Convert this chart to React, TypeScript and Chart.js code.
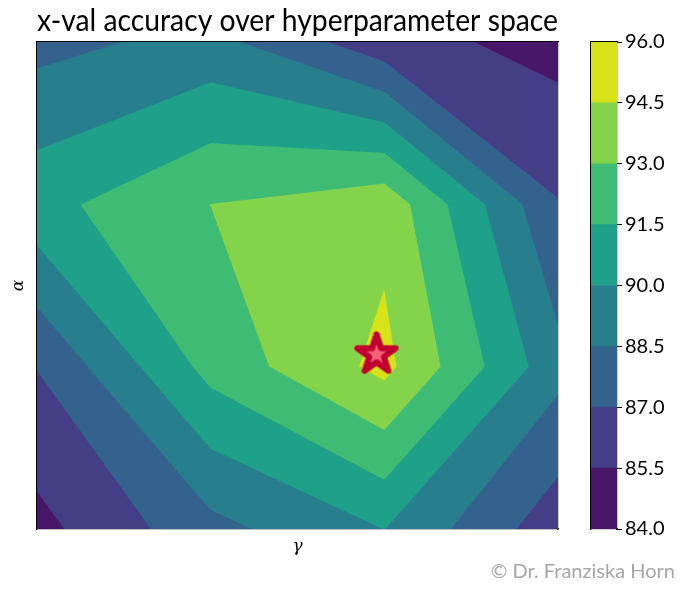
import React, { useEffect, useRef } from "react";
import { Chart, registerables } from "chart.js";

Chart.register(...registerables);

// grid positions (index of hyperparameter value)
const gammaIdx = [0, 1, 2, 3];
const alphaIdx = [0, 1, 2, 3];
// cross-validation accuracy, one row per alpha value (bottom to top)
const accAlpha0 = [85.04, 88.04, 90.03, 86.06];
const accAlpha1 = [87.06, 92.03, 94.93, 89.02];
const accAlpha2 = [91.0, 93.02, 94.05, 87.09];
const accAlpha3 = [88.02, 89.02, 86.07, 84.98];
// contour levels and colours
const levels = [84, 85.5, 87, 88.5, 90, 91.5, 93, 94.5, 96];
const bandColors = ["#481668", "#433e85", "#33638d", "#277f8e", "#1fa088", "#3fbc73", "#84d44b", "#d8e219"];
// best parameters
const bestGamma = [1.955];
const bestAlpha = [1.075];

const TITLE_FONT = "Lato";

type P = { x: number; y: number };

function bandPolygons(grid: number[][], lo: number, hi: number): P[][] {
  const polys: P[][] = [];
  for (let j = 0; j < alphaIdx.length - 1; j++) {
    for (let i = 0; i < gammaIdx.length - 1; i++) {
      const c = [
        { x: gammaIdx[i], y: alphaIdx[j], v: grid[j][i] },
        { x: gammaIdx[i + 1], y: alphaIdx[j], v: grid[j][i + 1] },
        { x: gammaIdx[i + 1], y: alphaIdx[j + 1], v: grid[j + 1][i + 1] },
        { x: gammaIdx[i], y: alphaIdx[j + 1], v: grid[j + 1][i] },
      ];
      const pts: P[] = [];
      for (let k = 0; k < 4; k++) {
        const a = c[k];
        const b = c[(k + 1) % 4];
        if (a.v >= lo && a.v <= hi) pts.push({ x: a.x, y: a.y });
        const cross: { t: number; x: number; y: number }[] = [];
        for (const L of [lo, hi]) {
          if ((a.v < L && b.v > L) || (a.v > L && b.v < L)) {
            const t = (L - a.v) / (b.v - a.v);
            cross.push({ t, x: a.x + t * (b.x - a.x), y: a.y + t * (b.y - a.y) });
          }
        }
        cross.sort((p, q) => p.t - q.t);
        cross.forEach((q) => pts.push({ x: q.x, y: q.y }));
      }
      if (pts.length >= 3) {
        pts.push({ ...pts[0] });
        polys.push(pts);
      }
    }
  }
  return polys;
}

function makeStar(): HTMLCanvasElement {
  const cv = document.createElement("canvas");
  cv.width = 58;
  cv.height = 58;
  const ctx = cv.getContext("2d")!;
  const R = 20.2;
  const r = R * 0.382;
  const cx = 29;
  const cy = 29;
  ctx.beginPath();
  for (let k = 0; k < 10; k++) {
    const ang = -Math.PI / 2 + (k * Math.PI) / 5;
    const rad = k % 2 === 0 ? R : r;
    const px = cx + rad * Math.cos(ang);
    const py = cy + rad * Math.sin(ang);
    if (k === 0) ctx.moveTo(px, py);
    else ctx.lineTo(px, py);
  }
  ctx.closePath();
  ctx.fillStyle = "#F26279";
  ctx.fill();
  ctx.lineJoin = "round";
  ctx.lineWidth = 6;
  ctx.strokeStyle = "#C1002F";
  ctx.stroke();
  return cv;
}

const hiddenAxis = (position: string, fit: (s: any) => void, extra: any = {}) => ({
  type: "linear",
  position,
  min: 0,
  max: 1,
  ticks: { display: false },
  grid: { display: false, drawTicks: false },
  border: { display: true, color: "#000", width: 1.2 },
  afterFit: fit,
  ...extra,
});

export default function App() {
  const mainRef = useRef<HTMLCanvasElement>(null);
  const cbRef = useRef<HTMLCanvasElement>(null);

  useEffect(() => {
    const grid = [accAlpha0, accAlpha1, accAlpha2, accAlpha3];
    const datasets: any[] = [];
    datasets.push({
      data: [{ x: bestGamma[0], y: bestAlpha[0] }],
      pointStyle: makeStar(),
      pointRadius: 10,
      showLine: false,
      order: 0,
    });
    for (let b = 0; b < bandColors.length; b++) {
      const polys = bandPolygons(grid, levels[b], levels[b + 1]);
      for (const poly of polys) {
        datasets.push({
          data: poly,
          showLine: true,
          fill: "shape",
          backgroundColor: bandColors[b],
          borderColor: bandColors[b],
          borderWidth: 1,
          pointRadius: 0,
          pointHoverRadius: 0,
          tension: 0,
          order: 1,
        });
      }
    }

    const main = new Chart(mainRef.current!, {
      type: "scatter",
      data: { datasets },
      options: {
        animation: false,
        responsive: false,
        events: [],
        layout: { padding: { left: 0, right: 131, top: 0, bottom: 0 } },
        plugins: {
          legend: { display: false },
          tooltip: { enabled: false },
          title: {
            display: true,
            text: "x-val accuracy over hyperparameter space",
            fullSize: false,
            color: "#000",
            font: { family: TITLE_FONT, size: 30, weight: "normal", lineHeight: 1.2 },
            padding: { top: 3, bottom: 3 },
          },
        },
        scales: {
          x: {
            type: "linear",
            position: "bottom",
            min: gammaIdx[0],
            max: gammaIdx[gammaIdx.length - 1],
            ticks: { display: false },
            grid: { display: false, drawTicks: false },
            border: { display: true, color: "#000", width: 1.2 },
            title: {
              display: true,
              text: "γ",
              color: "#000",
              font: { family: "DejaVu Serif", style: "italic", size: 17, lineHeight: 1.2 },
              padding: { top: 0, bottom: 34 },
            },
            afterFit: (s: any) => {
              s.height = 62;
            },
          },
          y: {
            type: "linear",
            position: "left",
            min: alphaIdx[0],
            max: alphaIdx[alphaIdx.length - 1],
            ticks: { display: false },
            grid: { display: false, drawTicks: false },
            border: { display: true, color: "#000", width: 1.2 },
            title: {
              display: true,
              text: "α",
              color: "#000",
              font: { family: "DejaVu Serif", style: "italic", size: 17, lineHeight: 1.2 },
              padding: { top: 8, bottom: 0 },
            },
            afterFit: (s: any) => {
              s.width = 37;
            },
          },
          xTop: hiddenAxis("top", (s: any) => {
            s.height = 0;
          }),
          yRight: hiddenAxis("right", (s: any) => {
            s.width = 0;
          }),
        } as any,
      },
    } as any);

    const cb = new Chart(cbRef.current!, {
      type: "bar",
      data: {
        labels: ["acc"],
        datasets: bandColors.map((c, k) => ({
          data: [[levels[k], levels[k + 1]]],
          backgroundColor: c,
          borderWidth: 0,
          barPercentage: 1,
          categoryPercentage: 1,
          grouped: false,
        })),
      },
      options: {
        animation: false,
        responsive: false,
        events: [],
        layout: { padding: 0 },
        plugins: { legend: { display: false }, tooltip: { enabled: false }, title: { display: false } },
        scales: {
          x: {
            type: "category",
            position: "bottom",
            ticks: { display: false },
            grid: { display: false, drawTicks: false },
            border: { display: true, color: "#000", width: 1.2 },
            afterFit: (s: any) => {
              s.height = 62;
            },
          },
          y: {
            type: "linear",
            position: "right",
            min: levels[0],
            max: levels[levels.length - 1],
            afterBuildTicks: (s: any) => {
              s.ticks = levels.map((v) => ({ value: v }));
            },
            ticks: {
              display: true,
              color: "#000",
              padding: 3,
              font: { family: TITLE_FONT, size: 20 },
              callback: (v: any) => Number(v).toFixed(1),
            },
            grid: { display: true, drawOnChartArea: false, drawTicks: true, tickLength: 5, tickColor: "#000", tickWidth: 1 },
            border: { display: true, color: "#000", width: 1.2 },
            afterFit: (s: any) => {
              s.width = 72;
            },
          },
          xTop: hiddenAxis("top", (s: any) => {
            s.height = 42;
          }),
          yLeft: hiddenAxis("left", (s: any) => {
            s.width = 31;
          }),
        } as any,
      },
    } as any);

    return () => {
      main.destroy();
      cb.destroy();
    };
  }, []);

  return (
    <div style={{ position: "absolute", left: 0, top: 0, width: 689, height: 591, background: "#fff", overflow: "hidden" }}>
      <canvas ref={mainRef} width={689} height={591} style={{ position: "absolute", left: 0, top: 0 }} />
      <canvas ref={cbRef} width={129} height={591} style={{ position: "absolute", left: 560, top: 0 }} />
      <div
        style={{
          position: "absolute",
          right: 14,
          top: 558,
          fontFamily: TITLE_FONT,
          fontSize: 20,
          lineHeight: "24px",
          color: "#a6a6a6",
          whiteSpace: "nowrap",
        }}
      >
        © Dr. Franziska Horn
      </div>
    </div>
  );
}
